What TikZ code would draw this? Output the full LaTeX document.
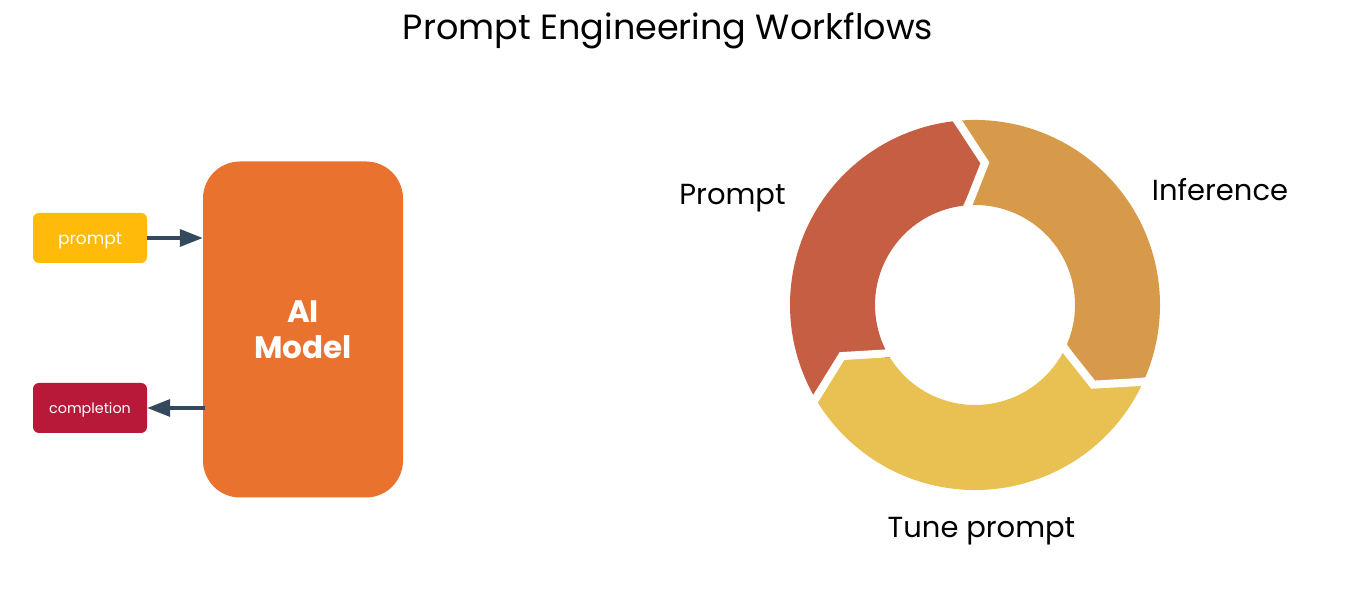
\documentclass[tikz,border=0pt]{standalone}
\usepackage{fontspec}
\setmainfont{Poppins}
\usetikzlibrary{arrows.meta,calc}
\definecolor{modelc}{RGB}{233,114,46}
\definecolor{promptc}{RGB}{255,186,10}
\definecolor{complc}{RGB}{184,25,56}
\definecolor{arrc}{RGB}{52,72,94}
\definecolor{segred}{RGB}{197,94,66}
\definecolor{segorange}{RGB}{215,154,74}
\definecolor{segyellow}{RGB}{233,192,82}
\tikzset{
  smallbox/.style={rounded corners=6pt, minimum width=114pt, minimum height=50pt, inner sep=0pt, text=white, text depth=0pt},
  arr/.style={-{Triangle[length=23pt,width=17pt]}, line width=3.5pt, draw=arrc},
  cyclelabel/.style={anchor=base, font=\fontsize{29}{35}\selectfont, text=black},
  gapline/.style={draw=white, line width=8pt, line join=miter}
}
\begin{document}
\begin{tikzpicture}[x=1pt,y=1pt]
\useasboundingbox (0,0) rectangle (1350,609);
% title
\node[anchor=base, font=\fontsize{35}{42}\selectfont] (title) at (668,569) {Prompt Engineering Workflows};
% left part
\node[fill=modelc, rounded corners=37pt, minimum width=200pt, minimum height=336pt, inner sep=0pt,
      text=white, align=center, font=\bfseries\fontsize{31}{36}\selectfont] (model) at (303,279.5) {AI\\Model};
\node[smallbox, fill=promptc, font=\fontsize{17}{20}\selectfont, text height=13pt] (prompt) at (90,371) {prompt};
\node[smallbox, fill=complc, font=\fontsize{14.3}{17}\selectfont, text height=12pt] (completion) at (90,201) {completion};
\draw[arr] (prompt.east) -- (model.west |- prompt.east);
\draw[arr] ([xshift=2pt]model.west |- completion.east) -- (completion.east);
% cycle
\coordinate (c) at (975,304);
\fill[segred] ($(c)+(212:185)$) arc[start angle=212, end angle=97, radius=185]
  -- ($(c)+(86:142.5)$) -- ($(c)+(97:100)$) arc[start angle=97, end angle=212, radius=100]
  -- ($(c)+(201:142.5)$) -- cycle;
\fill[segorange] ($(c)+(97:185)$) arc[start angle=97, end angle=-23, radius=185]
  -- ($(c)+(-34:142.5)$) -- ($(c)+(-23:100)$) arc[start angle=-23, end angle=97, radius=100]
  -- ($(c)+(86:142.5)$) -- cycle;
\fill[segyellow] ($(c)+(-23:185)$) arc[start angle=-23, end angle=-148, radius=185]
  -- ($(c)+(-159:142.5)$) -- ($(c)+(-148:100)$) arc[start angle=-148, end angle=-23, radius=100]
  -- ($(c)+(-34:142.5)$) -- cycle;
\foreach \t in {97,-23,212} {
  \draw[gapline] ($(c)+(\t:195)$) -- ($(c)+(\t-11:142.5)$) -- ($(c)+(\t:90)$);
}
\node[cyclelabel] (lprompt) at (732.5,404) {Prompt};
\node[cyclelabel] (linf) at (1220,408) {Inference};
\node[cyclelabel] (ltune) at (981.5,71) {Tune prompt};
\end{tikzpicture}
\end{document}
